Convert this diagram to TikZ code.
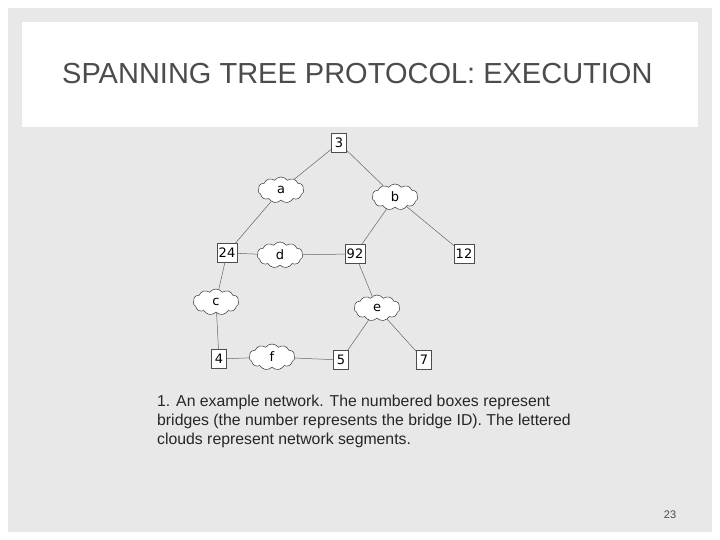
\documentclass[tikz,border=0pt]{standalone}
\usepackage{fontspec}
\setmainfont{Liberation Sans}
\newfontfamily\vfont{DejaVu Sans}
\usetikzlibrary{shapes.symbols}
\begin{document}
\begin{tikzpicture}[x=1pt,y=-1pt,
  br/.style={draw=black!70,fill=white,line width=0.5pt,inner sep=1.5pt,minimum height=19pt,minimum width=15pt,font=\vfont\fontsize{13}{13}\selectfont},
  cl/.style={cloud,cloud puffs=11,cloud puff arc=110,draw=black!80,fill=white,line width=0.5pt,aspect=1.9,minimum width=46pt,minimum height=26pt,inner sep=2pt,font=\vfont\fontsize{13}{13}\selectfont},
  ln/.style={draw=black!60,line width=0.5pt}]
\useasboundingbox (0,0) rectangle (720,540);
\fill[white] (0,0) rectangle (720,540);
\fill[black!9] (8,8) rectangle (712,532);
\fill[white] (22,22) rectangle (698,127);
\node[font=\fontsize{29}{29}\selectfont,text=black!70,anchor=west,inner sep=0pt] (t) at (62,74) {SPANNING TREE PROTOCOL: EXECUTION};
\node[br] (n3) at (339,143) {3};
\node[cl] (a) at (281,190) {a};
\node[cl] (b) at (395,197) {b};
\node[br] (n24) at (227,253) {24};
\node[cl] (d) at (280,255) {d};
\node[br] (n92) at (355,254) {92};
\node[br] (n12) at (464,254) {12};
\node[cl] (c) at (216,302) {c};
\node[cl] (e) at (377,308) {e};
\node[br] (n4) at (219,359) {4};
\node[cl] (f) at (272,357) {f};
\node[br] (n5) at (341,360) {5};
\node[br] (n7) at (424,360) {7};
\path[ln] (n3) -- (a) (n3) -- (b) (a) -- (n24) (b) -- (n92) (b) -- (n12)
  (n24) -- (d) (d) -- (n92) (n24) -- (c) (c) -- (n4) (n4) -- (f) (f) -- (n5)
  (n92) -- (e) (e) -- (n5) (e) -- (n7);
\node[anchor=north west,align=left,font=\fontsize{15.8}{19}\selectfont,text=black!85,inner sep=0pt] (cap) at (157,395) {1. An example network. The numbered boxes represent\\bridges (the number represents the bridge ID). The lettered\\clouds represent network segments.};
\node[font=\fontsize{11}{11}\selectfont,text=black!70] (pg) at (670,515) {23};
\end{tikzpicture}
\end{document}
